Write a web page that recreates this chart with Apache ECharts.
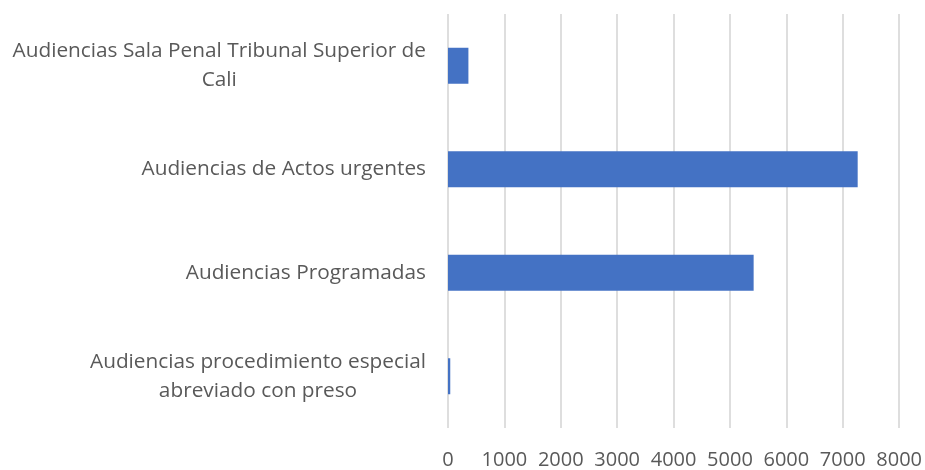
<!DOCTYPE html>
<html>
<head>
<meta charset="utf-8">
<script src="https://cdn.jsdelivr.net/npm/echarts@6/dist/echarts.min.js"></script>
<style>
  html, body { margin: 0; padding: 0; background: #fff; }
  #chart { width: 925px; height: 470px; }
</style>
</head>
<body>
<div id="chart"></div>
<script>
// categories listed bottom to top (category axis order)
const categories = [
  "Audiencias procedimiento especial\nabreviado con preso",
  "Audiencias Programadas",
  "Audiencias de Actos urgentes",
  "Audiencias Sala Penal Tribunal Superior de\nCali"
];
const values = [40, 5420, 7265, 362];
const xTicks = { min: 0, max: 8000, interval: 1000 };

const myChart = echarts.init(document.getElementById("chart"));

const option = {
  animation: false,
  grid: {
    left: 448,
    right: 25,
    top: 14,
    bottom: 40,
    containLabel: false
  },
  xAxis: {
    type: "value",
    min: xTicks.min,
    max: xTicks.max,
    interval: xTicks.interval,
    axisLine: { show: false },
    axisTick: { show: false },
    splitLine: { show: true, lineStyle: { color: "#dedede", width: 2 } },
    axisLabel: {
      margin: 22,
      fontFamily: "Open Sans",
      fontSize: 20,
      color: "#595959",
      formatter: function (v) { return String(v); }
    }
  },
  yAxis: {
    type: "category",
    data: categories,
    axisLine: { show: false },
    axisTick: { show: false },
    axisLabel: {
      margin: 22,
      fontFamily: "Open Sans",
      fontSize: 20.8,
      color: "#595959",
      lineHeight: 29,
      formatter: function (v) {
        return v.split("\n").map(function (l) { return "{c|" + l + "}"; }).join("\n");
      },
      rich: {
        c: {
          align: "center",
          fontFamily: "Open Sans",
          fontSize: 20.8,
          color: "#595959",
          lineHeight: 29
        }
      }
    }
  },
  series: [
    {
      type: "bar",
      data: values,
      barWidth: 36,
      itemStyle: { color: "#4472C4" }
    }
  ]
};

myChart.setOption(option);
</script>
</body>
</html>
